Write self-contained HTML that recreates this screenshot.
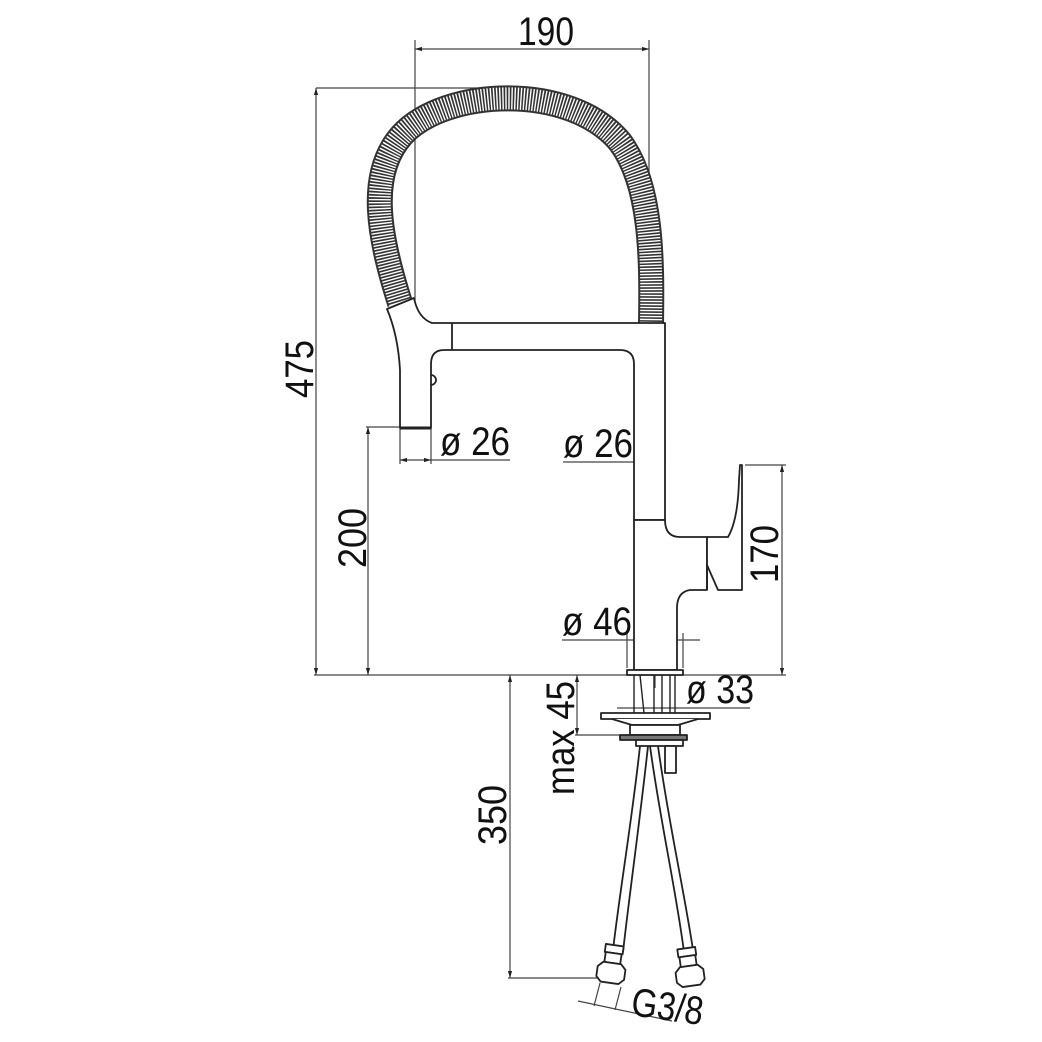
<!DOCTYPE html>
<html><head><meta charset="utf-8"><style>
html,body{margin:0;padding:0;background:#fff;}
svg{display:block;}
text{font-family:"Liberation Sans",sans-serif;font-size:40px;fill:#111;}
</style></head><body>
<svg width="1042" height="1042" viewBox="0 0 1042 1042" xmlns="http://www.w3.org/2000/svg">
<defs>
<marker id="a" viewBox="0 0 10 10" refX="10" refY="5" markerWidth="7" markerHeight="7" orient="auto-start-reverse" markerUnits="userSpaceOnUse"><path d="M0,2 L10,5 L0,8 z" fill="#222"/></marker>
</defs>
<g stroke="#444" stroke-width="1.2" fill="none">
<line x1="415" y1="49" x2="649" y2="49" marker-start="url(#a)" marker-end="url(#a)"/>
<line x1="415" y1="40" x2="415" y2="423"/>
<line x1="649" y1="40" x2="649" y2="462"/>
<line x1="316" y1="88" x2="502" y2="88"/>
<line x1="316" y1="88" x2="316" y2="675" marker-start="url(#a)" marker-end="url(#a)"/>
<line x1="314" y1="675" x2="786" y2="675"/>
<line x1="366" y1="427" x2="400" y2="427"/>
<line x1="368" y1="427" x2="368" y2="675" marker-start="url(#a)" marker-end="url(#a)"/>
<line x1="400" y1="428" x2="400" y2="464"/>
<line x1="431" y1="428" x2="431" y2="464"/>
<line x1="400" y1="460" x2="431" y2="460" marker-start="url(#a)" marker-end="url(#a)"/>
<line x1="431" y1="460" x2="510" y2="460"/>
<line x1="563" y1="462" x2="634" y2="462"/>
<line x1="634" y1="462" x2="665" y2="462" marker-start="url(#a)" marker-end="url(#a)"/>
<line x1="665" y1="440" x2="665" y2="466"/>
<line x1="745" y1="465" x2="786" y2="465"/>
<line x1="782" y1="465" x2="782" y2="675" marker-start="url(#a)" marker-end="url(#a)"/>
<line x1="562" y1="640" x2="700" y2="640"/>
<line x1="627" y1="633" x2="627" y2="668"/>
<line x1="683" y1="633" x2="683" y2="668"/>
<line x1="655" y1="613" x2="655" y2="688"/>
<line x1="617" y1="708" x2="750" y2="708"/>
<line x1="577" y1="675" x2="577" y2="735" marker-start="url(#a)" marker-end="url(#a)"/>
<line x1="575" y1="735" x2="620" y2="735"/>
<line x1="510" y1="675" x2="510" y2="978" marker-start="url(#a)" marker-end="url(#a)"/>
<line x1="508" y1="978" x2="603" y2="978"/>
<line x1="578" y1="1001" x2="672" y2="1021"/>
<line x1="600" y1="983" x2="594" y2="1006"/>
<line x1="621" y1="987" x2="615" y2="1010"/>
</g>
<path d="M400 303 C380 240,366 175,402 135 C445 88,570 82,620 142 C652 185,652 260,651 323" fill="none" stroke="#333" stroke-width="26"/>
<path d="M400 303 C380 240,366 175,402 135 C445 88,570 82,620 142 C652 185,652 260,651 323" fill="none" stroke="#fff" stroke-width="22" stroke-dasharray="1.4 1.6"/>
<g stroke="#222" stroke-width="1.8" fill="#fff" stroke-linejoin="round">
<path d="M665 323 L665 520 L634 520 L634 364 Q634 350 620 350 L444 350 Q431 350 431 364 L431 428 L400 428 L400 370 Q398 335 387 309 L414 298 Q418 318 432 323 Z"/>
<line x1="452" y1="323" x2="452" y2="350"/>
<path d="M431 375 a5 5 0 0 1 0 10" fill="none"/>
<line x1="400" y1="428" x2="431" y2="428" stroke-width="3"/>
<path d="M634 520 L665 520 Q665 537 680 537 L707 537 L707 590 L690 590 Q677 592 677 608 L677 670 L634 670 Z"/>
<path d="M707 537 L728 537 Q738 520 739 480 L740 465 L742 465 L742 590 L718 590 L707 565" fill="#fff"/>
<line x1="707" y1="537" x2="707" y2="590"/>
<rect x="627" y="670" width="56" height="5"/>
<g fill="none" stroke-width="1.4">
<line x1="634" y1="675" x2="634" y2="713"/><line x1="640" y1="675" x2="644" y2="713"/>
<line x1="654" y1="675" x2="654" y2="713"/><line x1="662" y1="675" x2="662" y2="713"/>
<line x1="670" y1="675" x2="670" y2="713"/><line x1="675" y1="675" x2="675" y2="713"/>
</g>
<rect x="601" y="713" width="109" height="6"/>
<path d="M612 719 L632 725 L678 725 L698 719"/>
<rect x="630" y="725" width="50" height="10"/>
<rect x="620" y="735" width="67" height="5" fill="#777"/>
<rect x="636" y="740" width="47" height="6"/>
<rect x="665" y="746" width="11" height="27"/>
<path d="M640 746 C632 820,620 890,613 950 M648 746 C640 820,630 890,623 952" fill="none"/>
<path d="M650 746 C660 820,676 890,684 952 M658 746 C668 820,684 890,693 950" fill="none"/>
<g transform="rotate(8 612 965)"><rect x="603" y="945" width="18" height="8"/><rect x="604" y="953" width="16" height="10"/><path d="M598 968 L603 963 L621 963 L626 968 L626 978 L621 983 L603 983 L598 978 Z"/></g>
<g transform="rotate(-8 689 968)"><rect x="680" y="948" width="18" height="8"/><rect x="681" y="956" width="16" height="10"/><path d="M675 971 L680 966 L698 966 L703 971 L703 981 L698 986 L680 986 L675 981 Z"/></g>
</g>
<text x="518" y="45" textLength="56" lengthAdjust="spacingAndGlyphs">190</text>
<text transform="translate(313 398) rotate(-90)" textLength="58" lengthAdjust="spacingAndGlyphs">475</text>
<text transform="translate(366 568) rotate(-90)" textLength="60" lengthAdjust="spacingAndGlyphs">200</text>
<text x="440" y="455" textLength="70" lengthAdjust="spacingAndGlyphs">ø 26</text>
<text x="563" y="457" textLength="70" lengthAdjust="spacingAndGlyphs">ø 26</text>
<text transform="translate(778 583) rotate(-90)" textLength="58" lengthAdjust="spacingAndGlyphs">170</text>
<text x="562" y="635" textLength="70" lengthAdjust="spacingAndGlyphs">ø 46</text>
<text x="686" y="703" textLength="68" lengthAdjust="spacingAndGlyphs">ø 33</text>
<text transform="translate(574 795) rotate(-90)" textLength="114" lengthAdjust="spacingAndGlyphs">max 45</text>
<text transform="translate(506 845) rotate(-90)" textLength="60" lengthAdjust="spacingAndGlyphs">350</text>
<text transform="translate(630 1015) rotate(8)" textLength="72" lengthAdjust="spacingAndGlyphs">G3/8</text>
</svg>
</body></html>
